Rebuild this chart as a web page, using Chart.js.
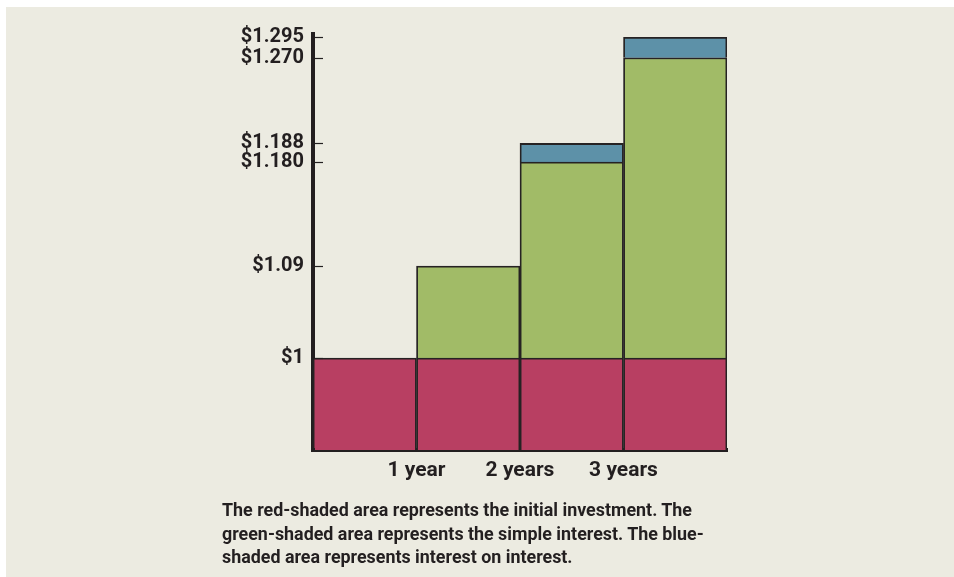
<!DOCTYPE html>
<html>
<head>
<meta charset="utf-8">
<script src="https://cdn.jsdelivr.net/npm/chart.js@4/dist/chart.umd.min.js"></script>
<style>
  html, body { margin: 0; padding: 0; background: #ffffff; }
  body { width: 954px; height: 577px; position: relative; overflow: hidden; }
  #panel { position: absolute; left: 6px; top: 7px; right: 0; bottom: 0; background: #ecebe1; }
  #chart { position: absolute; left: 0; top: 0; }
  #caption {
    position: absolute; left: 222px; top: 498px;
    font-family: Roboto, 'Liberation Sans', sans-serif;
    font-weight: bold; font-size: 19px; line-height: 23.5px; color: #231f20;
    white-space: nowrap; transform-origin: 0 0;
  }
  #caption span { display: inline-block; }
</style>
</head>
<body>
<div id="panel"></div>
<canvas id="chart" width="954" height="577"></canvas>
<div id="caption"><span id="firstLine">The red-shaded area represents the initial investment. The</span><br>green-shaded area represents the simple interest. The blue-<br>shaded area represents interest on interest.</div>
<script>
// each bar covers one period, labels sit on the period boundaries
var periodCenters = [0.5, 1.5, 2.5, 3.5];
var initialInvestment = [1, 1, 1, 1];
var simpleInterest = [null, 0.09, 0.18, 0.27];
var interestOnInterest = [null, null, 0.008, 0.025];

var yTickValues = [1, 1.09, 1.18, 1.188, 1.27, 1.295];
var yTickLabels = ["$1", "$1.09", "$1.180", "$1.188", "$1.270", "$1.295"];
var xTickValues = [1, 2, 3];
var xTickLabels = ["1 year", "2 years", "3 years"];

var dark = "#231f20";
var font = "Roboto, 'Liberation Sans', sans-serif";

// the original drawing is not to scale: value -> share of axis height
var axisBreaks = [[0, 0], [1, 0.221], [1.09, 0.442], [1.18, 0.692], [1.188, 0.737],
                  [1.27, 0.943], [1.295, 0.992], [1.3, 1]];

function toShare(v) {
  if (v <= axisBreaks[0][0]) return axisBreaks[0][1];
  for (var i = 1; i < axisBreaks.length; i++) {
    var a = axisBreaks[i - 1], b = axisBreaks[i];
    if (v <= b[0]) return a[1] + (v - a[0]) / (b[0] - a[0]) * (b[1] - a[1]);
  }
  return axisBreaks[axisBreaks.length - 1][1];
}
function fromShare(s) {
  for (var i = 1; i < axisBreaks.length; i++) {
    var a = axisBreaks[i - 1], b = axisBreaks[i];
    if (s <= b[1]) return a[0] + (s - a[1]) / (b[1] - a[1]) * (b[0] - a[0]);
  }
  return axisBreaks[axisBreaks.length - 1][0];
}

class BrokenScale extends Chart.LinearScale {
  getPixelForValue(value) {
    return this.getPixelForDecimal(toShare(value));
  }
  getValueForPixel(pixel) {
    return fromShare(this.getDecimalForPixel(pixel));
  }
}
BrokenScale.id = "broken";
BrokenScale.defaults = Chart.LinearScale.defaults;
Chart.register(BrokenScale);

function points(values) {
  return periodCenters.map(function (x, i) {
    return { x: x, y: values[i] };
  });
}

// small tick marks pointing into the plot from the y axis
var tickMarks = {
  id: "tickMarks",
  afterDraw: function (chart) {
    var ctx = chart.ctx, area = chart.chartArea, y = chart.scales.y;
    ctx.save();
    ctx.strokeStyle = dark;
    ctx.lineWidth = 1.2;
    yTickValues.forEach(function (v) {
      var py = Math.round(y.getPixelForValue(v)) + 0.5;
      ctx.beginPath();
      ctx.moveTo(area.left, py);
      ctx.lineTo(area.left + 10, py);
      ctx.stroke();
    });
    // square the corner where the two axis lines meet
    ctx.fillStyle = dark;
    ctx.fillRect(area.left - 2, area.bottom - 2, 4, 4);
    ctx.restore();
  }
};

var barStyle = {
  borderColor: "#262223",
  borderWidth: 1.8,
  barPercentage: 1,
  categoryPercentage: 1
};

new Chart(document.getElementById("chart"), {
  type: "bar",
  data: {
    datasets: [
      Object.assign({ label: "Initial investment", data: points(initialInvestment), backgroundColor: "#b83f62" }, barStyle),
      Object.assign({ label: "Simple interest", data: points(simpleInterest), backgroundColor: "#a1bb67" }, barStyle),
      Object.assign({ label: "Interest on interest", data: points(interestOnInterest), backgroundColor: "#5d91a8" }, barStyle)
    ]
  },
  options: {
    responsive: false,
    animation: false,
    layout: { padding: { top: 34, right: 227, left: 0, bottom: 0 } },
    plugins: { legend: { display: false }, tooltip: { enabled: false } },
    scales: {
      x: {
        type: "linear",
        stacked: true,
        min: 0,
        max: 4,
        offset: false,
        grid: { display: false, drawTicks: false, offset: false },
        border: { display: true, color: dark, width: 4 },
        afterBuildTicks: function (scale) {
          scale.ticks = xTickValues.map(function (v) { return { value: v }; });
        },
        afterFit: function (scale) { scale.height = 127; },
        ticks: {
          autoSkip: false,
          maxRotation: 0,
          padding: 8,
          color: dark,
          font: { family: font, size: 21, weight: "bold" },
          callback: function (value, index) { return xTickLabels[index]; }
        }
      },
      y: {
        type: "broken",
        stacked: true,
        min: 0,
        max: 1.3,
        grid: { display: false, drawTicks: false },
        border: { display: true, color: dark, width: 4 },
        afterBuildTicks: function (scale) {
          scale.ticks = yTickValues.map(function (v) { return { value: v }; });
        },
        afterFit: function (scale) { scale.width = 313; },
        ticks: {
          autoSkip: false,
          padding: 9,
          color: dark,
          font: { family: font, size: 20, weight: "bold", lineHeight: 1 },
          callback: function (value, index) { return yTickLabels[index]; }
        }
      }
    }
  },
  plugins: [tickMarks]
});

// squeeze the caption horizontally so the first line spans the same width as the original
var cap = document.getElementById("caption");
var w = document.getElementById("firstLine").getBoundingClientRect().width;
cap.style.transform = "scaleX(" + (470 / w) + ")";
</script>
</body>
</html>
